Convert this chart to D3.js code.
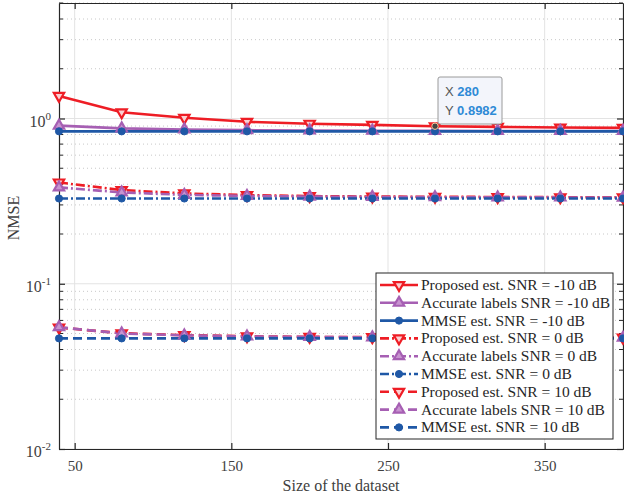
<!DOCTYPE html>
<html>
<head>
<meta charset="utf-8">
<script src="https://cdn.jsdelivr.net/npm/d3@7"></script>
<style>
  body { margin: 0; background: #fff; }
  svg { display: block; }
</style>
</head>
<body>
<svg id="chart" width="624" height="500"></svg>
<script>
// dataset sizes
const sizes = [40, 80, 120, 160, 200, 240, 280, 320, 360, 400];

// NMSE values, SNR = -10 dB
const propM10 = [1.37, 1.09, 1.01, 0.955, 0.93, 0.915, 0.8982, 0.89, 0.882, 0.877];
const accM10 = [0.905, 0.872, 0.858, 0.850, 0.846, 0.844, 0.842, 0.841, 0.840, 0.840];
const mmseM10 = [0.836, 0.836, 0.836, 0.836, 0.836, 0.836, 0.836, 0.836, 0.836, 0.836];

// SNR = 0 dB
const prop0 = [0.41, 0.369, 0.352, 0.344, 0.339, 0.337, 0.336, 0.335, 0.334, 0.334];
const acc0 = [0.383, 0.357, 0.345, 0.340, 0.337, 0.335, 0.334, 0.333, 0.333, 0.332];
const mmse0 = [0.328, 0.328, 0.328, 0.328, 0.328, 0.328, 0.328, 0.328, 0.328, 0.328];

// SNR = 10 dB
const prop10 = [0.0543, 0.0502, 0.0489, 0.0481, 0.0477, 0.0475, 0.0474, 0.0473, 0.0473, 0.0472];
const acc10 = [0.0546, 0.0500, 0.0487, 0.0480, 0.0476, 0.0474, 0.0473, 0.0472, 0.0472, 0.0471];
const mmse10 = [0.0467, 0.0467, 0.0467, 0.0467, 0.0467, 0.0467, 0.0467, 0.0467, 0.0467, 0.0467];

const xTicks = [50, 150, 250, 350];
const yTicks = [0.01, 0.1, 1];
const yTickExp = ['-2', '-1', '0'];

const red = '#ee1d25', purple = '#a65fb3', blue = '#1f58a6';
const solid = null, dashDot = '9,3,2,3', dashed = '9,5';
const serif = '"Liberation Serif", "Times New Roman", Times, serif';

const series = [
  { name: 'Proposed est. SNR = -10 dB', values: propM10, color: red, dash: solid, marker: 'down' },
  { name: 'Accurate labels SNR = -10 dB', values: accM10, color: purple, dash: solid, marker: 'up' },
  { name: 'MMSE est. SNR = -10 dB', values: mmseM10, color: blue, dash: solid, marker: 'circle' },
  { name: 'Proposed est. SNR = 0 dB', values: prop0, color: red, dash: dashDot, marker: 'down' },
  { name: 'Accurate labels SNR = 0 dB', values: acc0, color: purple, dash: dashDot, marker: 'up' },
  { name: 'MMSE est. SNR = 0 dB', values: mmse0, color: blue, dash: dashDot, marker: 'circle' },
  { name: 'Proposed est. SNR = 10 dB', values: prop10, color: red, dash: dashed, marker: 'down' },
  { name: 'Accurate labels SNR = 10 dB', values: acc10, color: purple, dash: dashed, marker: 'up' },
  { name: 'MMSE est. SNR = 10 dB', values: mmse10, color: blue, dash: dashed, marker: 'circle' }
];

const svg = d3.select('#chart'),
  margin = { top: 3, right: 1, bottom: 51, left: 59 },
  width = +svg.attr('width') - margin.left - margin.right,
  height = +svg.attr('height') - margin.top - margin.bottom,
  g = svg.append('g').attr('transform', 'translate(' + margin.left + ',' + margin.top + ')');

const x = d3.scaleLinear().domain([40, 400]).range([0, width]);
const y = d3.scaleLog().domain([0.01, 5]).range([height, 0]);

// minor grid (dotted) for log axis
const minor = [];
[0.01, 0.1, 1].forEach(d => {
  for (let k = 2; k <= 9; k++) {
    const v = d * k;
    if (v <= 5) minor.push(v);
  }
});
g.append('g')
  .selectAll('line')
  .data(minor)
  .join('line')
  .attr('x1', 0).attr('x2', width)
  .attr('y1', d => y(d)).attr('y2', d => y(d))
  .attr('stroke', '#c8c8c8')
  .attr('stroke-dasharray', '1,3');

// major grid
g.append('g')
  .selectAll('line')
  .data(yTicks)
  .join('line')
  .attr('x1', 0).attr('x2', width)
  .attr('y1', d => y(d)).attr('y2', d => y(d))
  .attr('stroke', '#e3e3e3');
g.append('g')
  .selectAll('line')
  .data(xTicks)
  .join('line')
  .attr('x1', d => x(d)).attr('x2', d => x(d))
  .attr('y1', 0).attr('y2', height)
  .attr('stroke', '#e3e3e3');

// axes with inward ticks on all four sides
const axisColor = '#262626';
function styleAxis(sel) {
  sel.select('.domain').attr('stroke', axisColor).attr('stroke-width', 1.2);
  sel.selectAll('.tick line').attr('stroke', axisColor).attr('stroke-width', 1.2);
}

g.append('g')
  .attr('transform', 'translate(0,' + height + ')')
  .call(d3.axisBottom(x).tickValues(xTicks).tickSizeInner(-6).tickSizeOuter(0).tickPadding(11))
  .call(styleAxis)
  .call(a => a.selectAll('.tick text')
    .attr('font-size', 15).attr('fill', '#404040')
    .style('font-family', serif));

g.append('g')
  .call(d3.axisTop(x).tickValues(xTicks).tickSizeInner(-6).tickSizeOuter(0).tickFormat(''))
  .call(styleAxis);

g.append('g')
  .call(d3.axisLeft(y).tickValues(yTicks).tickSizeInner(-6).tickSizeOuter(0).tickFormat(''))
  .call(styleAxis);
g.append('g')
  .attr('transform', 'translate(' + width + ',0)')
  .call(d3.axisRight(y).tickValues(yTicks).tickSizeInner(-6).tickSizeOuter(0).tickFormat(''))
  .call(styleAxis);

// minor ticks on y
[0, width].forEach(x0 => {
  g.append('g')
    .selectAll('line')
    .data(minor)
    .join('line')
    .attr('x1', x0).attr('x2', x0 === 0 ? 4 : width - 4)
    .attr('y1', d => y(d)).attr('y2', d => y(d))
    .attr('stroke', axisColor);
});

// y tick labels with superscripts
const yl = g.append('g').selectAll('text')
  .data(yTicks)
  .join('text')
  .attr('x', -8)
  .attr('y', d => y(d) + 8)
  .attr('text-anchor', 'end')
  .attr('fill', '#404040')
  .attr('font-size', 16)
  .style('font-family', serif);
yl.append('tspan').text('10');
yl.append('tspan').attr('dy', -7).attr('font-size', 11).text((d, i) => yTickExp[i]);

// axis titles
svg.append('text')
  .attr('x', margin.left + width / 2)
  .attr('y', 491)
  .attr('text-anchor', 'middle')
  .attr('font-size', 16)
  .attr('fill', '#404040')
  .style('font-family', serif)
  .text('Size of the dataset');

svg.append('text')
  .attr('transform', 'translate(19,' + (margin.top + height / 2 - 8) + ') rotate(-90)')
  .attr('text-anchor', 'middle')
  .attr('font-size', 16)
  .attr('fill', '#404040')
  .style('font-family', serif)
  .text('NMSE');

// markers
const symUp = d3.symbol().type(d3.symbolTriangle).size(46);
const symCircle = d3.symbol().type(d3.symbolCircle).size(40);
function drawMarker(sel, s) {
  if (s.marker === 'circle') {
    sel.append('path').attr('d', symCircle()).attr('fill', s.color).attr('stroke', s.color);
  } else if (s.marker === 'up') {
    sel.append('path').attr('d', symUp()).attr('fill', '#c894d0')
      .attr('stroke', s.color).attr('stroke-width', 2.2);
  } else {
    sel.append('path').attr('d', symUp()).attr('transform', 'rotate(180)')
      .attr('fill', '#fbd0d2').attr('stroke', s.color).attr('stroke-width', 2.2);
  }
}

const line = d3.line()
  .x((d, i) => x(sizes[i]))
  .y(d => y(d));

const plot = g.append('g');
series.forEach(s => {
  plot.append('path')
    .datum(s.values)
    .attr('fill', 'none')
    .attr('stroke', s.color)
    .attr('stroke-width', 2.6)
    .attr('stroke-dasharray', s.dash)
    .attr('d', line);
});
series.forEach(s => {
  plot.selectAll(null)
    .data(s.values)
    .join('g')
    .attr('transform', (d, i) => 'translate(' + x(sizes[i]) + ',' + y(d) + ')')
    .each(function () { drawMarker(d3.select(this), s); });
});

// legend
const lg = svg.append('g').attr('transform', 'translate(376,273)');
lg.append('rect')
  .attr('width', 237).attr('height', 166)
  .attr('fill', '#fff').attr('stroke', '#262626').attr('stroke-width', 1);
series.forEach((s, i) => {
  const row = lg.append('g').attr('transform', 'translate(0,' + (12 + i * 17.8) + ')');
  row.append('line')
    .attr('x1', 4).attr('x2', 42)
    .attr('stroke', s.color).attr('stroke-width', 2.6)
    .attr('stroke-dasharray', s.dash);
  row.append('g').attr('transform', 'translate(23,0)').call(sel => drawMarker(sel, s));
  row.append('text')
    .attr('x', 45).attr('y', 5)
    .attr('font-size', 15.5)
    .attr('fill', '#262626')
    .style('font-family', serif)
    .text(s.name);
});

// data tip at x = 280
const tipX = x(sizes[6]) + margin.left, tipY = y(propM10[6]) + margin.top;
svg.append('circle')
  .attr('cx', tipX).attr('cy', tipY).attr('r', 3.2)
  .attr('fill', '#444').attr('stroke', '#f2c89a').attr('stroke-width', 1);
const tip = svg.append('g').attr('transform', 'translate(438,77)');
tip.append('rect')
  .attr('width', 64).attr('height', 47).attr('rx', 2)
  .attr('fill', '#f3f5fb').attr('stroke', '#9a9a9a');
[['X', '280'], ['Y', '0.8982']].forEach((r, i) => {
  const t = tip.append('text')
    .attr('x', 7).attr('y', 19 + i * 19)
    .style('font-family', '"Liberation Sans", Arial, sans-serif')
    .attr('font-size', 13);
  t.append('tspan').attr('fill', '#555').text(r[0] + ' ');
  t.append('tspan').attr('fill', '#2e8ad6').attr('font-weight', 'bold').text(r[1]);
});
</script>
</body>
</html>
